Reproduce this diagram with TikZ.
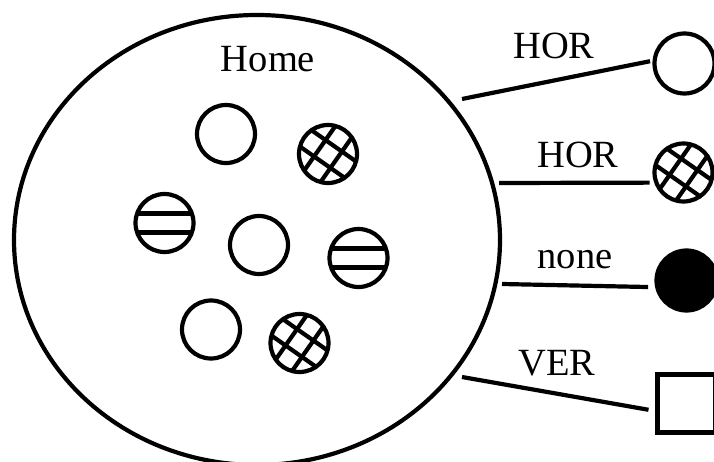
\documentclass[tikz,border=0pt]{standalone}
\usepackage{fontspec}
\setmainfont{Liberation Serif}
\usetikzlibrary{shapes.geometric,calc}
\begin{document}
\begin{tikzpicture}[x=1pt,y=-1pt,
  lw/.style={line width=4.2pt},
  ball/.style={circle,draw,lw,inner sep=0pt,minimum size=58pt},
  hatchball/.style={ball,path picture={
      \foreach \off in {-10,10}{
        \draw[lw] ($(path picture bounding box.center)+(35:40)+(125:\off)$) -- ($(path picture bounding box.center)+(215:40)+(125:\off)$);
        \draw[lw] ($(path picture bounding box.center)+(125:40)+(35:\off)$) -- ($(path picture bounding box.center)+(305:40)+(35:\off)$);}}},
  stripeball/.style={ball,path picture={
      \foreach \off in {-9.5,9.5}{\draw[lw] ($(path picture bounding box.center)+(-40,\off)$) -- ($(path picture bounding box.center)+(40,\off)$);}}},
  lbl/.style={font=\fontsize{38.5}{40}\selectfont,inner sep=0pt,anchor=base},
  conn/.style={lw}]
\useasboundingbox (0,0) rectangle (714,462);
\clip (0,0) rectangle (714,462);
\fill[white] (0,0) rectangle (714,462);
% container
\node[ellipse,draw,lw,inner sep=0pt,minimum width=486pt,minimum height=450pt] (home) at (257,240) {};
\node[lbl] (homelbl) at (268,72) {Home};
% inner balls
\node[ball] (c1) at (226,134) {};
\node[hatchball] (x1) at (328,154) {};
\node[stripeball] (s1) at (164.5,223) {};
\node[ball] (c2) at (259,245) {};
\node[stripeball] (s2) at (358.5,258) {};
\node[ball] (c3) at (211,329.5) {};
\node[hatchball] (x2) at (299.5,343) {};
% right side
\node[ball,minimum size=60pt] (r1) at (684.5,63.5) {};
\node[hatchball] (r2) at (683.5,172.5) {};
\node[circle,fill=black,draw,lw,inner sep=0pt,minimum size=60pt] (r3) at (686.5,280.5) {};
\node[rectangle,draw,lw,inner sep=0pt,minimum size=58pt] (r4) at (686.5,403.5) {};
% labels
\node[lbl] (l1) at (554,59) {HOR};
\node[lbl] (l2) at (578,168) {HOR};
\node[lbl] (l3) at (575,268) {none};
\node[lbl] (l4) at (557,375) {VER};
% connectors
\coordinate (a1) at (462,99);
\coordinate (a2) at (499,183);
\coordinate (a3) at (502,284);
\coordinate (a4) at (462,377);
\draw[conn,shorten >=2.5pt] (a1) -- (r1.175);
\draw[conn,shorten >=4.5pt] (a2) -- (r2.199);
\draw[conn,shorten >=7pt] (a3) -- (r3.192);
\draw[conn,shorten >=7pt] (a4) -- ([yshift=-7.5pt]r4.west);
\end{tikzpicture}
\end{document}
